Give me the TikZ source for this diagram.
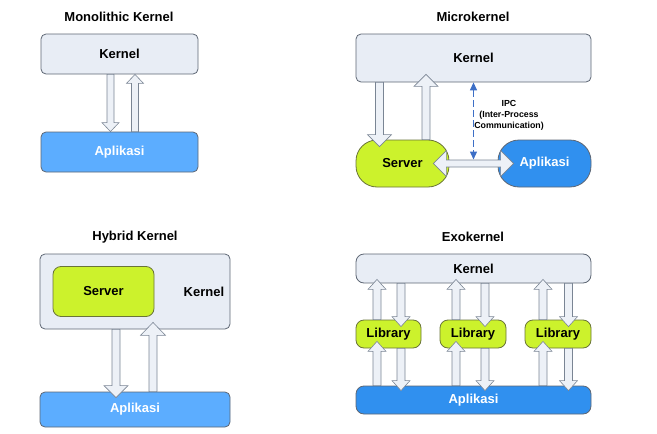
\documentclass[tikz,border=0pt]{standalone}
\usepackage{fontspec}
\setmainfont{Liberation Sans}
\usetikzlibrary{positioning,calc,arrows.meta}

\definecolor{kernfill}{HTML}{E8EDF5}
\definecolor{boxline}{HTML}{5E6774}
\definecolor{appfill}{HTML}{5CADFF}
\definecolor{appdark}{HTML}{3090EF}
\definecolor{limefill}{HTML}{CCF22C}
\definecolor{limeline}{HTML}{6A7438}
\definecolor{ipcblue}{HTML}{3D6FC6}
\definecolor{arrowline}{HTML}{7A8594}
\definecolor{arrowfill}{HTML}{EDF1F7}

\newcommand{\fatshaft}{3.5pt}
\newcommand{\fathead}{8pt}
\newcommand{\fatlen}{10pt}

\tikzstyle{heading}=[font=\fontsize{13}{15}\selectfont\bfseries]
\tikzstyle{plain}=[inner sep=0pt, font=\fontsize{13}{15}\selectfont\bfseries]
\tikzstyle{kernbox}=[rectangle, draw=boxline, line width=0.8pt, rounded corners=5pt, fill=kernfill, inner sep=0pt, font=\fontsize{13}{15}\selectfont\bfseries]
\tikzstyle{appbox}=[kernbox, fill=appfill, text=white]
\tikzstyle{serverbox}=[kernbox, draw=limeline, fill=limefill]
\tikzstyle{ipctext}=[align=center, inner sep=0pt, font=\fontsize{8.8}{11}\selectfont\bfseries]
\tikzstyle{ipcarrow}=[{Triangle[length=8pt,width=7pt]}-{Triangle[length=8pt,width=7pt]}, ipcblue, line width=1.3pt, dash pattern=on 7pt off 3pt]
\tikzstyle{fat}=[draw=arrowline, fill=arrowfill, line width=0.6pt,
  to path={let \p1=(\tikztostart), \p2=(\tikztotarget) in
    ($(\p1)!\fatshaft!90:(\p2)$)
    -- ($($(\p2)!\fatlen!(\p1)$)!\fatshaft!90:(\p2)$)
    -- ($($(\p2)!\fatlen!(\p1)$)!\fathead!90:(\p2)$)
    -- (\p2)
    -- ($($(\p2)!\fatlen!(\p1)$)!\fathead!-90:(\p2)$)
    -- ($($(\p2)!\fatlen!(\p1)$)!\fatshaft!-90:(\p2)$)
    -- ($(\p1)!\fatshaft!-90:(\p2)$) -- cycle}]
\tikzstyle{fatboth}=[draw=arrowline, fill=arrowfill, line width=0.6pt,
  to path={let \p1=(\tikztostart), \p2=(\tikztotarget) in
    (\p1)
    -- ($($(\p1)!\fatlen!(\p2)$)!\fathead!90:(\p2)$)
    -- ($($(\p1)!\fatlen!(\p2)$)!\fatshaft!90:(\p2)$)
    -- ($($(\p2)!\fatlen!(\p1)$)!\fatshaft!-90:(\p1)$)
    -- ($($(\p2)!\fatlen!(\p1)$)!\fathead!-90:(\p1)$)
    -- (\p2)
    -- ($($(\p2)!\fatlen!(\p1)$)!\fathead!90:(\p1)$)
    -- ($($(\p2)!\fatlen!(\p1)$)!\fatshaft!90:(\p1)$)
    -- ($($(\p1)!\fatlen!(\p2)$)!\fatshaft!-90:(\p2)$)
    -- ($($(\p1)!\fatlen!(\p2)$)!\fathead!-90:(\p2)$)
    -- cycle}]
\tikzstyle{fatmono}=[fat, /utils/exec={\def\fatshaft{3.5pt}\def\fathead{8.5pt}\def\fatlen{9pt}}]
\tikzstyle{fatbig}=[fat, /utils/exec={\def\fatshaft{4pt}\def\fathead{12pt}\def\fatlen{12pt}}]
\tikzstyle{fatexo}=[fat, /utils/exec={\def\fatshaft{4pt}\def\fathead{9pt}\def\fatlen{10pt}}]

\begin{document}
\begin{tikzpicture}[x=1pt, y=-1pt]

        \useasboundingbox (0,0) rectangle (657,434);

        % Monolithic Kernel
        \node (mono) [heading] at (119,17) {Monolithic Kernel};
        \node (kern1) [kernbox, minimum width=157, minimum height=40, below of=mono, node distance=37pt, xshift=0.5pt] {Kernel};
        \node (app1) [appbox, minimum width=157, minimum height=40, below of=kern1, node distance=98pt] {Aplikasi};

        % Microkernel
        \node (micro) [heading] at (473,17) {Microkernel};
        \node (kern2) [kernbox, minimum width=235, minimum height=48, below of=micro, node distance=41pt, xshift=0.5pt] {Kernel};
        \node (server2) [serverbox, rounded corners=21pt, minimum width=93, minimum height=47, below of=kern2, node distance=105.5pt, xshift=-71pt] {Server};
        \node (app2) [appbox, fill=appdark, rounded corners=21pt, minimum width=93, minimum height=47, right of=server2, node distance=142pt] {Aplikasi};
        \node (ipc) [ipctext] at (509,115) {IPC\\(Inter-Process\\Communication)};
        \coordinate (ipcend) at ($(kern2.south |- server2.east)+(0,-4)$);

        % Hybrid Kernel
        \node (hybrid) [heading] at (135,237) {Hybrid Kernel};
        \node (kern3) [kernbox, minimum width=190, minimum height=75, below of=hybrid, node distance=54.5pt] {};
        \node (kern3label) [plain, left=6pt of kern3.east] {Kernel};
        \node (server3) [serverbox, rounded corners=8pt, minimum width=101, minimum height=50, right=13pt of kern3.west] {Server};
        \node (app3) [appbox, minimum width=190, minimum height=35, below of=kern3, node distance=118pt] {Aplikasi};

        % Exokernel
        \node (exo) [heading] at (473,237) {Exokernel};
        \node (kern4) [kernbox, rounded corners=8pt, minimum width=235, minimum height=29, below of=exo, node distance=31.5pt, xshift=0.5pt] {Kernel};
        \node (lib2) [serverbox, rounded corners=8pt, minimum width=66, minimum height=28, below of=kern4, node distance=65.5pt, xshift=-0.5pt] {Library};
        \node (lib1) [serverbox, rounded corners=8pt, minimum width=65, minimum height=28, left of=lib2, node distance=84.5pt] {Library};
        \node (lib3) [serverbox, rounded corners=8pt, minimum width=66, minimum height=28, right of=lib2, node distance=85pt] {Library};
        \node (app4) [appbox, fill=appdark, rounded corners=8pt, minimum width=235, minimum height=28, below of=kern4, node distance=131.5pt] {Aplikasi};

        %Arrows
        \draw[fatmono] ($(kern1.south)+(-9,0)$) to ($(app1.north)+(-9,0)$);
        \draw[fatmono] ($(app1.north)+(15.5,0)$) to ($(kern1.south)+(15.5,0)$);

        \draw[fatbig] ($(kern2.south)+(-94,0)$) to ($(server2.north)+(-23,7)$);
        \draw[fatbig] (server2.north -| {$(kern2.south)+(-47.5,0)$}) to ($(kern2.south)+(-47.5,-8)$);
        \draw[fatboth, /utils/exec={\def\fatshaft{3.5pt}\def\fathead{13pt}\def\fatlen{13pt}}] ($(server2.east)+(-16,0)$) to ($(app2.west)+(16,0)$);
        \draw[ipcarrow] (kern2.south) -- (ipcend);

        \draw[fatbig] ($(kern3.south)+(-19,0)$) to ($(app3.north)+(-19,6)$);
        \draw[fatbig, /utils/exec={\def\fathead{12.5pt}\def\fatlen{13pt}}] ($(app3.north)+(18,0)$) to ($(kern3.south)+(18,-7)$);

        %Exokernel Arrows
        \foreach \lib/\ux/\dx in {lib1/-11.5/12.5, lib2/-17/12, lib3/-15/10.5}{
            \draw[fatexo] ($(\lib.north)+(\ux,0)$) to ($(kern4.south -| \lib.north)+(\ux,-4)$);
            \draw[fatexo] ($(kern4.south -| \lib.north)+(\dx,0)$) to ($(\lib.north)+(\dx,7)$);
            \draw[fatexo] ($(app4.north -| \lib.south)+(\ux,0)$) to ($(\lib.south)+(\ux,-7)$);
            \draw[fatexo] ($(\lib.south)+(\dx,0)$) to ($(app4.north -| \lib.south)+(\dx,5)$);
        }

\end{tikzpicture}
\end{document}
